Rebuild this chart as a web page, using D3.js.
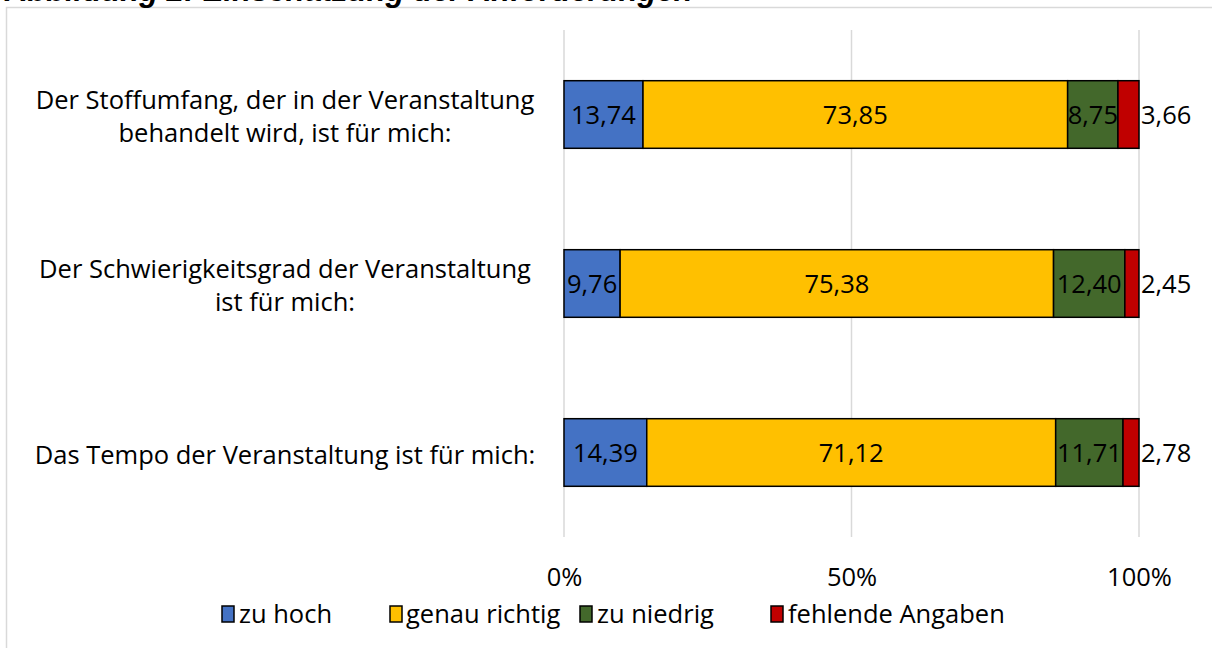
<!DOCTYPE html>
<html>
<head>
<meta charset="utf-8">
<script src="https://cdn.jsdelivr.net/npm/d3@7"></script>
<style>
  body { margin: 0; background: #fff; }
  svg { display: block; }
</style>
</head>
<body>
<div id="chart"></div>
<script>
let width = 1212, height = 648;

// data
let questions = [
    ["Der Stoffumfang, der in der Veranstaltung", "behandelt wird, ist für mich:"],
    ["Der Schwierigkeitsgrad der Veranstaltung", "ist für mich:"],
    ["Das Tempo der Veranstaltung ist für mich:"]
];
let seriesNames = ["zu hoch", "genau richtig", "zu niedrig", "fehlende Angaben"];
let zuHoch = [13.74, 9.76, 14.39];
let genauRichtig = [73.85, 75.38, 71.12];
let zuNiedrig = [8.75, 12.40, 11.71];
let fehlend = [3.66, 2.45, 2.78];
let tickValues = [0, 50, 100];
let colors = ["#4472c4", "#ffc000", "#43682b", "#c00000"];

let font = "'Open Sans', 'Noto Sans', sans-serif";
let fontSize = 25.5;

let svg = d3.select("#chart").append("svg")
    .attr("width", width)
    .attr("height", height);

// outer chart frame
svg.append("rect")
    .attr("x", 6.5)
    .attr("y", 7.5)
    .attr("width", width + 20)
    .attr("height", height + 20)
    .attr("fill", "none")
    .attr("stroke", "#d9d9d9")
    .attr("stroke-width", 1.5);

// title, cut off by the top edge like in the source
svg.append("text")
    .attr("x", 5)
    .attr("y", 1)
    .attr("font-family", "'Liberation Sans', Arial, sans-serif")
    .attr("font-weight", "bold")
    .attr("font-style", "italic")
    .attr("font-size", 31)
    .text("Abbildung 2: Einschätzung der Anforderungen");

let xScale = d3.scaleLinear()
    .domain([0, 100])
    .range([564, 1139]);

let yScale = d3.scaleBand()
    .domain(d3.range(questions.length))
    .range([30, 537])
    .paddingInner(0.6)
    .paddingOuter(0.3);

// gridlines
svg.append("g")
    .selectAll("line")
    .data(tickValues)
    .enter()
    .append("line")
    .attr("x1", d => xScale(d))
    .attr("x2", d => xScale(d))
    .attr("y1", 30)
    .attr("y2", 537)
    .attr("stroke", "#d9d9d9")
    .attr("stroke-width", 1.5);

// x axis labels
let xAxis = d3.axisBottom(xScale)
    .tickValues(tickValues)
    .tickFormat(d => d + "%")
    .tickSize(0)
    .tickPadding(0);

let gX = svg.append("g")
    .attr("transform", "translate(0,577)")
    .call(xAxis);
gX.select(".domain").remove();
gX.selectAll("text")
    .attr("font-family", font)
    .attr("font-size", fontSize)
    .attr("fill", "#000")
    .attr("y", 0)
    .attr("dy", "0.36em");

// stacked data
let rows = questions.map((q, i) => ({
    index: i,
    values: [zuHoch[i], genauRichtig[i], zuNiedrig[i], fehlend[i]]
}));
let stack = d3.stack()
    .keys([0, 1, 2, 3])
    .value((d, k) => d.values[k]);
let series = stack(rows);

let groups = svg.append("g")
    .selectAll("g")
    .data(series)
    .enter()
    .append("g")
    .attr("fill", (d, i) => colors[i]);

groups.selectAll("rect")
    .data(d => d)
    .enter()
    .append("rect")
    .attr("x", d => xScale(d[0]))
    .attr("y", d => yScale(d.data.index))
    .attr("width", d => xScale(d[1]) - xScale(d[0]))
    .attr("height", yScale.bandwidth())
    .attr("stroke", "#000")
    .attr("stroke-width", 1.5);

// value labels
series.forEach(function(s, k) {
    svg.append("g")
        .selectAll("text")
        .data(s)
        .enter()
        .append("text")
        .attr("x", d => k === 3 ? xScale(d[1]) + 2 : (xScale(d[0]) + xScale(d[1])) / 2)
        .attr("y", d => yScale(d.data.index) + yScale.bandwidth() / 2)
        .attr("dy", "0.36em")
        .attr("text-anchor", k === 3 ? "start" : "middle")
        .attr("font-family", font)
        .attr("font-size", fontSize)
        .attr("fill", "#000")
        .text(d => d3.format(".2f")(d.data.values[k]).replace(".", ","));
});

// category labels
let lineHeight = 33;
let cat = svg.append("g")
    .selectAll("text")
    .data(questions)
    .enter()
    .append("text")
    .attr("text-anchor", "middle")
    .attr("font-family", font)
    .attr("font-size", fontSize)
    .attr("fill", "#000")
    .attr("y", (d, i) => yScale(i) + yScale.bandwidth() / 2 + 2 - (d.length - 1) * lineHeight / 2);

cat.selectAll("tspan")
    .data(d => d)
    .enter()
    .append("tspan")
    .attr("x", 285)
    .attr("dy", (d, i) => i === 0 ? "0.36em" : lineHeight)
    .text(d => d);

// legend
let legendItems = [
    {x: 222, tx: 239},
    {x: 390, tx: 406},
    {x: 580, tx: 597},
    {x: 771, tx: 788}
];
let legend = svg.append("g")
    .selectAll("g")
    .data(seriesNames)
    .enter()
    .append("g");

legend.append("rect")
    .attr("x", (d, i) => legendItems[i].x)
    .attr("y", 606)
    .attr("width", 12)
    .attr("height", 16)
    .attr("fill", (d, i) => colors[i])
    .attr("stroke", "#000")
    .attr("stroke-width", 1.5);

legend.append("text")
    .attr("x", (d, i) => legendItems[i].tx)
    .attr("y", 614)
    .attr("dy", "0.36em")
    .attr("font-family", font)
    .attr("font-size", fontSize)
    .attr("fill", "#000")
    .text(d => d);
</script>
</body>
</html>
